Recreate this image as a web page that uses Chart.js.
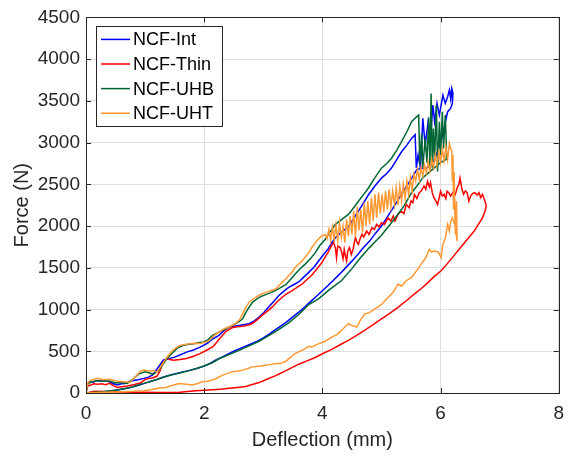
<!DOCTYPE html>
<html>
<head>
<meta charset="utf-8">
<script src="https://cdn.jsdelivr.net/npm/chart.js@4.4.1/dist/chart.umd.min.js"></script>
<style>
  html, body { margin: 0; padding: 0; background: #fff; }
</style>
</head>
<body>
<canvas id="forceChart" width="573" height="457"></canvas>
<script>
// axis ranges and ticks
const X_TICKS = [0, 2, 4, 6, 8];
const Y_TICKS = [0, 500, 1000, 1500, 2000, 2500, 3000, 3500, 4000, 4500];
const SERIES_NAMES = ['NCF-Int', 'NCF-Thin', 'NCF-UHB', 'NCF-UHT'];
const SERIES_COLORS = ['#0000FF', '#FF0000', '#006633', '#FF9933'];

// [deflection mm, force N] — loading branch, failure zone, unloading branch
const NCF_INT = [
  [0,0],[0.02,110],[0.06,140],[0.12,130],[0.18,150],[0.25,140],[0.32,150],[0.4,135],[0.46,110],[0.53,95],
  [0.6,110],[0.66,115],[0.72,130],[0.8,150],[0.88,160],[0.98,175],[1.06,190],[1.12,215],[1.17,255],[1.23,315],
  [1.31,395],[1.37,405],[1.42,415],[1.5,430],[1.59,455],[1.7,490],[1.82,515],[1.93,550],[2.04,590],[2.15,650],
  [2.25,690],[2.34,750],[2.42,790],[2.5,800],[2.59,810],[2.68,820],[2.76,830],[2.85,865],[2.93,910],[3.01,965],
  [3.09,1030],[3.18,1100],[3.26,1165],[3.35,1220],[3.43,1265],[3.52,1300],[3.6,1330],[3.68,1385],[3.77,1445],
  [3.86,1510],[3.94,1585],[4.02,1660],[4.1,1730],[4.16,1800],[4.22,1860],[4.33,1930],[4.44,1990],[4.52,2080],
  [4.61,2180],[4.7,2280],[4.78,2375],[4.89,2480],[5.0,2575],[5.09,2630],[5.17,2695],[5.26,2800],[5.34,2890],
  [5.43,2970],[5.51,3050],[5.57,3095],
  [5.59,2700],[5.62,2850],[5.66,2690],[5.7,3290],[5.74,2970],[5.79,3250],[5.83,3050],[5.87,3450],[5.9,3250],
  [5.94,3470],[5.98,3330],[6.04,3570],[6.08,3470],[6.12,3550],[6.15,3630],[6.17,3530],[6.19,3650],[6.21,3590],
  [6.2,3470],[6.17,3410],[6.12,3370],[6.07,3210],[6.02,3050],[5.95,2890],[5.88,2775],[5.78,2700],[5.68,2690],
  [5.6,2680],[5.5,2560],[5.4,2450],[5.3,2335],[5.2,2220],[5.1,2110],[5.0,2000],[4.9,1915],[4.8,1820],[4.7,1745],
  [4.6,1660],[4.5,1580],[4.4,1505],[4.3,1430],[4.2,1360],[4.1,1290],[4.0,1225],[3.9,1160],[3.8,1095],[3.7,1030],
  [3.6,968],[3.5,912],[3.4,855],[3.3,805],[3.2,755],[3.1,705],[3.0,660],[2.9,622],[2.8,590],[2.7,560],[2.6,532],
  [2.5,500],[2.4,465],[2.3,430],[2.2,395],[2.1,355],[2.0,322],[1.9,300],[1.8,280],[1.7,262],[1.6,245],[1.5,228],
  [1.4,210],[1.3,188],[1.2,163],[1.1,140],[1.0,118],[0.9,95],[0.8,75],[0.7,58],[0.6,45],[0.5,33],[0.4,24],
  [0.3,16],[0.2,10],[0.1,5],[0,0]
];

const NCF_THIN = [
  [0,0],[0.02,80],[0.08,95],[0.13,110],[0.2,105],[0.27,110],[0.33,100],[0.4,115],[0.47,85],[0.53,67],[0.6,75],
  [0.7,85],[0.8,100],[0.92,120],[1.0,160],[1.06,175],[1.12,180],[1.2,200],[1.25,260],[1.3,360],[1.37,413],
  [1.42,400],[1.48,393],[1.59,400],[1.7,413],[1.82,440],[1.93,472],[2.04,512],[2.15,555],[2.25,640],[2.37,740],
  [2.48,785],[2.56,795],[2.65,800],[2.73,812],[2.81,830],[2.9,880],[2.98,930],[3.06,975],[3.15,1028],[3.23,1090],
  [3.32,1147],[3.4,1190],[3.49,1226],[3.57,1265],[3.66,1306],[3.74,1360],[3.82,1410],[3.9,1480],[3.99,1560],
  [4.05,1630],[4.1,1690],[4.15,1760],[4.19,1802],[4.22,1740],[4.24,1620],[4.26,1760],[4.3,1742],[4.33,1680],
  [4.35,1610],[4.37,1720],[4.39,1640],[4.41,1583],[4.43,1700],[4.46,1742],[4.49,1660],[4.52,1720],[4.54,1800],
  [4.56,1861],[4.59,1800],[4.61,1780],[4.64,1850],[4.67,1901],[4.7,1870],[4.75,1940],[4.79,1900],[4.84,1980],
  [4.88,1960],[4.92,2020],[4.96,1990],[5.0,2040],[5.05,2020],[5.11,2099],[5.16,2060],[5.2,2120],[5.23,2060],
  [5.28,2139],[5.33,2180],[5.38,2150],[5.42,2258],[5.47,2220],[5.5,2300],[5.53,2280],[5.56,2377],[5.6,2330],
  [5.64,2400],[5.67,2417],[5.72,2480],[5.75,2440],[5.78,2536],[5.81,2470],[5.83,2520],[5.86,2400],[5.89,2337],
  [5.92,2300],[5.95,2258],[5.98,2350],[6.0,2417],[6.03,2360],[6.06,2380],[6.09,2330],[6.11,2417],[6.14,2400],
  [6.17,2360],[6.2,2390],[6.22,2417],[6.25,2380],[6.28,2456],[6.31,2500],[6.33,2575],[6.36,2450],[6.39,2380],
  [6.42,2420],[6.45,2400],[6.48,2298],[6.51,2360],[6.54,2390],[6.58,2400],[6.62,2370],[6.65,2400],[6.68,2340],
  [6.71,2380],[6.74,2320],[6.77,2258],
  [6.77,2230],[6.75,2170],[6.71,2099],[6.64,2020],[6.57,1940],[6.5,1880],[6.43,1820],[6.36,1760],[6.29,1702],
  [6.22,1640],[6.15,1580],[6.08,1520],[6.01,1464],[5.9,1400],[5.79,1325],[5.68,1255],[5.56,1187],[5.42,1105],
  [5.28,1027],[5.14,955],[5.0,889],[4.86,820],[4.72,752],[4.58,690],[4.44,631],[4.3,578],[4.16,522],[4.0,470],
  [3.88,425],[3.74,385],[3.6,345],[3.46,295],[3.32,245],[3.2,205],[3.06,165],[2.93,125],[2.8,98],[2.7,78],
  [2.56,66],[2.42,56],[2.28,46],[2.14,38],[2.0,32],[1.86,28],[1.72,18],[1.58,8],[1.4,5],[1.2,6],[1.0,8],
  [0.8,10],[0.6,12],[0.46,15],[0.3,18],[0.15,22],[0,0]
];

const NCF_UHB = [
  [0,0],[0.03,110],[0.1,135],[0.2,150],[0.3,140],[0.4,145],[0.5,120],[0.6,125],[0.7,115],[0.8,170],[0.9,230],
  [1.0,255],[1.08,240],[1.14,226],[1.22,260],[1.3,340],[1.37,413],[1.48,492],[1.56,545],[1.65,571],[1.75,585],
  [1.82,591],[1.92,605],[1.99,611],[2.07,640],[2.14,690],[2.25,730],[2.37,770],[2.45,800],[2.53,830],[2.6,860],
  [2.65,889],[2.7,960],[2.76,1028],[2.82,1090],[2.9,1130],[2.97,1160],[3.04,1179],[3.12,1200],[3.21,1230],
  [3.3,1265],[3.38,1298],[3.46,1360],[3.54,1425],[3.62,1485],[3.71,1544],[3.8,1610],[3.88,1682],[3.96,1770],
  [4.05,1842],[4.13,1930],[4.22,2020],[4.33,2080],[4.44,2139],[4.52,2210],[4.61,2298],[4.7,2380],[4.78,2456],
  [4.89,2580],[5.0,2694],[5.09,2750],[5.17,2813],[5.26,2910],[5.34,3012],[5.43,3130],[5.51,3250],[5.58,3300],
  [5.63,3330],
  [5.65,2730],[5.68,3110],[5.7,2700],[5.74,3050],[5.77,2760],[5.8,3300],[5.82,2700],[5.84,3587],[5.86,2694],
  [5.88,3170],[5.9,2800],[5.93,3450],[5.95,2655],[5.98,3250],[6.0,2850],[6.03,3370],[6.05,2930],[6.08,3330],
  [6.1,2930],[6.1,2800],[6.0,2760],[5.9,2700],[5.8,2640],[5.7,2580],[5.6,2480],
  [5.5,2390],[5.39,2250],[5.3,2160],[5.17,2040],[5.0,1890],[4.89,1810],[4.78,1730],[4.61,1590],[4.5,1490],
  [4.33,1350],[4.2,1280],[4.1,1226],[3.94,1130],[3.77,1060],[3.6,940],[3.43,840],[3.26,760],[3.1,690],[2.93,620],
  [2.76,565],[2.59,510],[2.42,460],[2.25,410],[2.13,360],[1.98,320],[1.87,294],[1.75,268],[1.65,252],[1.54,232],
  [1.42,212],[1.3,186],[1.2,162],[1.09,138],[0.98,115],[0.86,90],[0.75,66],[0.64,50],[0.53,36],[0.4,25],
  [0.3,16],[0.15,8],[0,0]
];

const NCF_UHT = [
  [0,0],[0.03,120],[0.08,155],[0.2,175],[0.3,160],[0.4,165],[0.53,140],[0.64,135],[0.75,130],[0.86,214],
  [0.92,260],[0.98,274],[1.05,265],[1.14,270],[1.2,250],[1.28,330],[1.37,430],[1.48,520],[1.59,571],[1.7,585],
  [1.76,591],[1.85,595],[1.93,592],[2.02,610],[2.09,631],[2.17,690],[2.25,730],[2.34,770],[2.42,790],[2.53,830],
  [2.6,880],[2.65,949],[2.7,1020],[2.76,1087],[2.82,1120],[2.87,1147],[2.95,1180],[3.04,1206],[3.12,1225],
  [3.21,1246],[3.27,1290],[3.32,1325],[3.38,1365],[3.43,1405],[3.49,1450],[3.54,1504],[3.6,1545],[3.66,1583],
  [3.71,1630],[3.77,1682],[3.82,1740],[3.88,1801],[3.94,1850],[3.99,1881],[4.05,1900],
  [4.08,1850],[4.11,1960],[4.14,1830],[4.17,1990],[4.2,1840],[4.23,2010],[4.26,1820],[4.29,2040],[4.32,1860],
  [4.35,2000],[4.38,1800],[4.41,2080],[4.44,1880],[4.47,2120],[4.5,1900],[4.53,2180],[4.56,1870],[4.59,2230],
  [4.62,1950],[4.65,2200],[4.68,1920],[4.71,2280],[4.74,2000],[4.77,2300],[4.8,2020],[4.83,2340],[4.86,2060],
  [4.89,2380],[4.92,2100],[4.95,2400],[4.98,2150],[5.01,2380],[5.04,2170],[5.07,2420],[5.1,2200],[5.13,2440],
  [5.16,2230],[5.19,2420],[5.22,2260],[5.25,2460],[5.28,2250],[5.31,2480],[5.34,2300],[5.37,2500],[5.4,2330],
  [5.43,2540],[5.46,2380],[5.49,2580],[5.52,2420],[5.55,2620],[5.58,2540],[5.61,2680],[5.64,2560],[5.67,2700],
  [5.7,2600],[5.73,2730],[5.76,2640],[5.79,2770],[5.82,2660],[5.85,2800],[5.88,2700],[5.91,2850],[5.94,2730],
  [5.97,2890],[6.0,2760],[6.03,2920],[6.06,2780],[6.09,2950],[6.12,2800],[6.15,2990],
  [6.17,2930],[6.19,2900],[6.2,2550],[6.21,2850],[6.22,2200],[6.23,2650],[6.25,1900],[6.27,2300],[6.28,1820],
  [6.25,2000],[6.2,2100],[6.17,2050],[6.15,1940],[6.12,2020],[6.08,1850],[6.04,1782],[6.01,1623],[5.96,1690],
  [5.9,1702],[5.85,1690],[5.81,1722],[5.75,1620],[5.67,1544],[5.6,1470],[5.51,1385],[5.42,1345],[5.34,1280],
  [5.28,1306],[5.22,1230],[5.17,1187],[5.08,1120],[5.0,1060],[4.95,1035],[4.87,1000],[4.79,960],[4.72,949],
  [4.65,880],[4.58,790],[4.5,810],[4.44,830],[4.35,770],[4.25,700],[4.16,670],[4.05,620],[3.94,591],[3.82,551],
  [3.77,560],[3.68,520],[3.6,492],[3.54,473],[3.45,420],[3.38,380],[3.3,355],[3.2,350],[3.1,340],[3.04,333],
  [2.93,320],[2.81,313],[2.73,290],[2.65,274],[2.55,260],[2.48,254],[2.4,235],[2.31,214],[2.22,180],[2.14,155],
  [2.05,140],[1.97,135],[1.88,110],[1.8,95],[1.7,105],[1.58,115],[1.45,90],[1.35,67],[1.24,60],[1.1,40],
  [0.98,28],[0.8,20],[0.64,16],[0.45,12],[0.3,8],[0.1,4],[0,0]
];

const SERIES_DATA = [NCF_INT, NCF_THIN, NCF_UHB, NCF_UHT];
const AXIS_COLOR = '#262626';
const FONT_FAMILY = '"Liberation Sans", Arial, sans-serif';

// box around the axes, inward ticks on all four sides, legend in upper left
const framePlugin = {
  id: 'frame',
  afterDatasetsDraw(chart) {
    const { ctx, chartArea: a, scales } = chart;
    ctx.save();
    ctx.strokeStyle = AXIS_COLOR;
    ctx.lineWidth = 1;
    ctx.beginPath();
    X_TICKS.forEach(v => {
      const px = Math.round(scales.x.getPixelForValue(v)) + 0.5;
      ctx.moveTo(px, a.bottom); ctx.lineTo(px, a.bottom - 5);
      ctx.moveTo(px, a.top); ctx.lineTo(px, a.top + 5);
    });
    Y_TICKS.forEach(v => {
      const py = Math.round(scales.y.getPixelForValue(v)) + 0.5;
      ctx.moveTo(a.left, py); ctx.lineTo(a.left + 5, py);
      ctx.moveTo(a.right, py); ctx.lineTo(a.right - 5, py);
    });
    ctx.stroke();
    ctx.strokeRect(Math.round(a.left) + 0.5, Math.round(a.top) + 0.5,
      Math.round(a.right - a.left), Math.round(a.bottom - a.top));

    // legend
    const bx = a.left + 10, by = a.top + 9, bw = 126, rowH = 24.6;
    const bh = rowH * chart.data.datasets.length + 2;
    ctx.fillStyle = '#fff';
    ctx.fillRect(bx, by, bw, bh);
    ctx.strokeRect(Math.round(bx) + 0.5, Math.round(by) + 0.5, bw, Math.round(bh));
    ctx.font = '18px ' + FONT_FAMILY;
    ctx.textBaseline = 'middle';
    chart.data.datasets.forEach((ds, i) => {
      const cy = by + 13 + i * rowH;
      ctx.strokeStyle = ds.borderColor;
      ctx.lineWidth = 1.5;
      ctx.beginPath();
      ctx.moveTo(bx + 5, cy); ctx.lineTo(bx + 34, cy);
      ctx.stroke();
      ctx.fillStyle = '#000';
      ctx.fillText(ds.label, bx + 37, cy + 1);
    });
    ctx.restore();
  }
};

new Chart(document.getElementById('forceChart'), {
  type: 'scatter',
  data: {
    datasets: SERIES_DATA.map((pts, i) => ({
      label: SERIES_NAMES[i],
      data: pts.map(p => ({ x: p[0], y: p[1] })),
      showLine: true,
      borderColor: SERIES_COLORS[i],
      backgroundColor: SERIES_COLORS[i],
      borderWidth: 1.5,
      pointRadius: 0,
      tension: 0,
      order: SERIES_NAMES.length - i
    }))
  },
  options: {
    responsive: false,
    animation: false,
    devicePixelRatio: 1,
    layout: { padding: { top: 15, right: 11, left: 0, bottom: 0 } },
    plugins: { legend: { display: false }, tooltip: { enabled: false } },
    scales: {
      x: {
        type: 'linear', min: 0, max: 8,
        afterBuildTicks: s => { s.ticks = X_TICKS.map(v => ({ value: v })); },
        afterFit: s => { s.height = 64; },
        ticks: { color: AXIS_COLOR, padding: 9, callback: v => String(v),
                 font: { family: FONT_FAMILY, size: 19 } },
        grid: { color: '#dfdfdf', drawTicks: false },
        border: { display: false },
        title: { display: true, text: 'Deflection (mm)', color: AXIS_COLOR, padding: { top: 0, bottom: 5 },
                 font: { family: FONT_FAMILY, size: 20 } }
      },
      y: {
        min: 0, max: 4500,
        afterBuildTicks: s => { s.ticks = Y_TICKS.map(v => ({ value: v })); },
        afterFit: s => { s.width = 86; },
        ticks: { color: AXIS_COLOR, padding: 6, callback: v => String(v),
                 font: { family: FONT_FAMILY, size: 19 } },
        grid: { color: '#dfdfdf', drawTicks: false },
        border: { display: false },
        title: { display: true, text: 'Force (N)', color: AXIS_COLOR, padding: { top: 10, bottom: 0 },
                 font: { family: FONT_FAMILY, size: 20 } }
      }
    }
  },
  plugins: [framePlugin]
});
</script>
</body>
</html>
